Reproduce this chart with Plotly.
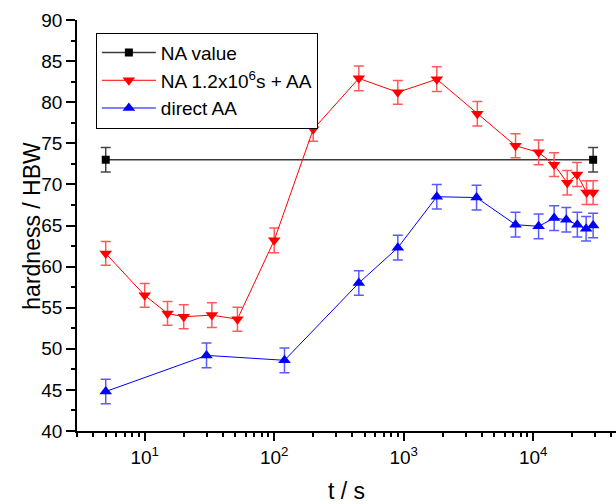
import plotly.graph_objects as go

# Reference hardness after natural aging (NA)
na_t = [5, 29000]
na_hb = [73.0, 73.0]
na_err = [1.5, 1.5]

# Natural aging 1.2x10^6 s followed by artificial aging (AA)
naaa_t = [5, 10, 15, 20, 33, 52, 100, 200, 450, 900, 1800, 3700, 7300,
          11000, 14500, 18300, 21800, 25800, 29000]
naaa_hb = [61.6, 56.5, 54.3, 53.9, 54.1, 53.6, 63.2, 76.7, 82.9, 81.2, 82.8,
           78.6, 74.7, 73.9, 72.4, 70.2, 71.2, 69.0, 69.0]
naaa_err = [1.45, 1.45, 1.45, 1.45, 1.5, 1.45, 1.5, 1.45, 1.5, 1.45, 1.5,
            1.5, 1.45, 1.5, 1.45, 1.5, 1.45, 1.45, 1.45]

# Direct artificial aging
aa_t = [5, 30, 120, 450, 900, 1800, 3650, 7300, 11000, 14500, 18000,
        21900, 25600, 29000]
aa_hb = [44.8, 49.2, 48.6, 58.0, 62.3, 68.5, 68.4, 65.1, 64.9, 65.9, 65.7,
         65.1, 64.6, 65.0]
aa_err = [1.5, 1.5, 1.5, 1.5, 1.5, 1.5, 1.5, 1.5, 1.5, 1.5, 1.5,
          1.5, 1.5, 1.5]

# Axis ticks
x_major = [10, 100, 1000, 10000]
x_major_text = ["10<sup>1</sup>", "10<sup>2</sup>", "10<sup>3</sup>", "10<sup>4</sup>"]
x_minor = [m * 10 ** d for d in range(0, 5) for m in range(2, 10)
           if 3 <= m * 10 ** d <= 40000 and m * 10 ** d not in x_major]

FONT = "Liberation Sans, Arial, sans-serif"
X_RANGE = [0.4771, 4.639]

fig = go.Figure()

fig.add_trace(go.Scatter(
    x=na_t, y=na_hb, name="NA value", mode="lines+markers",
    line=dict(color="#3a3a3a", width=1.5),
    marker=dict(symbol="square", size=8, color="black"),
    error_y=dict(type="data", array=na_err, color="#444444", thickness=1.5, width=5),
))
fig.add_trace(go.Scatter(
    x=naaa_t, y=naaa_hb, name="NA 1.2x10<sup>6</sup>s + AA", mode="lines+markers",
    line=dict(color="#ff0000", width=1),
    marker=dict(symbol="triangle-down", size=11, color="#ff0000"),
    error_y=dict(type="data", array=naaa_err, color="#ff5a5a", thickness=1.5, width=5),
))
fig.add_trace(go.Scatter(
    x=aa_t, y=aa_hb, name="direct AA", mode="lines+markers",
    line=dict(color="#0000ff", width=1),
    marker=dict(symbol="triangle-up", size=11, color="#0000ff"),
    error_y=dict(type="data", array=aa_err, color="#5a5aff", thickness=1.5, width=5),
))

fig.update_layout(
    width=616, height=504,
    margin=dict(l=77, r=0, t=20, b=73),
    paper_bgcolor="white", plot_bgcolor="white",
    font=dict(family=FONT, size=19, color="black"),
    showlegend=True,
    legend=dict(
        x=0.035, y=0.969, xanchor="left", yanchor="top",
        bordercolor="black", borderwidth=1, bgcolor="white",
        font=dict(family=FONT, size=19, color="black"),
        itemwidth=54, tracegroupgap=0,
    ),
    xaxis=dict(
        type="log", range=X_RANGE,
        showline=True, linecolor="black", linewidth=1.5,
        showgrid=False, zeroline=False,
        tickmode="array", tickvals=x_major, ticktext=x_major_text,
        ticks="outside", ticklen=8, tickwidth=1.5, tickcolor="black",
        minor=dict(tickmode="array", tickvals=x_minor, ticks="outside",
                   ticklen=4, tickwidth=1.5, tickcolor="black", showgrid=False),
        tickfont=dict(family=FONT, size=19),
        title=dict(text="t / s", font=dict(family=FONT, size=23), standoff=18),
    ),
    xaxis2=dict(
        type="log", range=X_RANGE, overlaying="x", side="top",
        showline=True, linecolor="black", linewidth=1.5,
        showgrid=False, zeroline=False, showticklabels=False,
        tickmode="array", tickvals=x_major,
        ticks="inside", ticklen=5, tickwidth=1.5, tickcolor="black",
        minor=dict(tickmode="array", tickvals=x_minor, ticks="inside",
                   ticklen=3, tickwidth=1.5, tickcolor="black", showgrid=False),
    ),
    yaxis=dict(
        range=[40, 90],
        showline=True, linecolor="black", linewidth=1.5,
        showgrid=False, zeroline=False,
        tick0=40, dtick=5,
        ticks="outside", ticklen=9, tickwidth=1.5, tickcolor="black",
        minor=dict(dtick=2.5, ticks="outside", ticklen=4, tickwidth=1.5,
                   tickcolor="black", showgrid=False),
        tickfont=dict(family=FONT, size=19),
    ),
    annotations=[dict(
        text="hardness / HBW", textangle=-90,
        xref="paper", yref="paper", x=-0.085, y=0.5,
        xanchor="center", yanchor="middle", showarrow=False,
        font=dict(family=FONT, size=23, color="black"),
    )],
)

fig.write_html("out.html")
